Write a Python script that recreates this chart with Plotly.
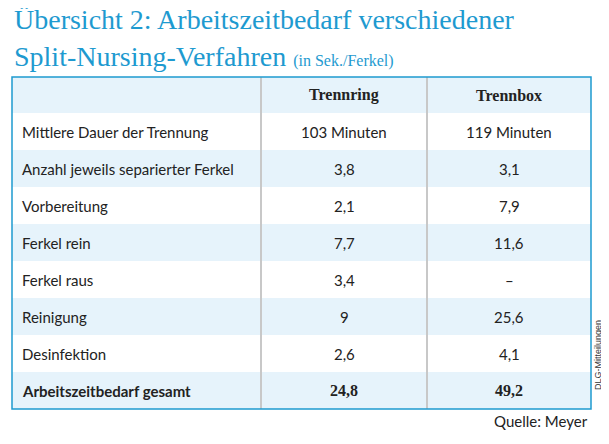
import plotly.graph_objects as go

W, H = 609, 444
OFF = 8  # page body margin

columns = ["Trennring", "Trennbox"]
row_labels = ["Mittlere Dauer der Trennung", "Anzahl jeweils separierter Ferkel",
              "Vorbereitung", "Ferkel rein", "Ferkel raus", "Reinigung",
              "Desinfektion", "Arbeitszeitbedarf gesamt"]
trennring = ["103 Minuten", "3,8", "2,1", "7,7", "3,4", "9", "2,6", "24,8"]
trennbox = ["119 Minuten", "3,1", "7,9", "11,6", "–", "25,6", "4,1", "49,2"]

TEAL = "#1e9ad0"
BLUE = "#e6f3fb"
TEXT = "#222222"

def px(x):
    return (x - OFF) / W

def py(y):
    return 1 - (y - OFF) / H

left, right = 12, 591
top, head_h, row_h = 77, 36, 37
c1, c2 = 261, 427

fig = go.Figure()
shapes, anns = [], []

# header background
shapes.append(dict(type="rect", xref="paper", yref="paper", x0=px(left), x1=px(right),
                   y0=py(top + head_h), y1=py(top), fillcolor=BLUE, line_width=0, layer="below"))
for i in range(len(row_labels)):
    y0 = top + head_h + i * row_h
    if i % 2 == 1:
        shapes.append(dict(type="rect", xref="paper", yref="paper", x0=px(left), x1=px(right),
                           y0=py(y0 + row_h), y1=py(y0), fillcolor=BLUE, line_width=0, layer="below"))
    bold = i == len(row_labels) - 1
    yc = py(y0 + row_h / 2)
    lab = f"<b>{row_labels[i]}</b>" if bold else row_labels[i]
    anns.append(dict(x=px(20), y=yc, text=lab, xanchor="left"))
    for xc, val in [((c1 + c2) / 2, trennring[i]), ((c2 + right) / 2, trennbox[i])]:
        t = f"<b>{val}</b>" if bold else val
        anns.append(dict(x=px(xc), y=yc, text=t, xanchor="center",
                         font=dict(family="Liberation Serif" if bold else "Lato", size=16 if bold else 15, color=TEXT)))
bottom = top + head_h + len(row_labels) * row_h
for xc, name in [((c1 + c2) / 2, columns[0]), ((c2 + right) / 2, columns[1])]:
    anns.append(dict(x=px(xc), y=py(top + head_h / 2), text=f"<b>{name}</b>", xanchor="center",
                     font=dict(family="Liberation Serif", size=16, color=TEXT)))
for xv in [c1, c2]:
    shapes.append(dict(type="line", xref="paper", yref="paper", x0=px(xv), x1=px(xv),
                       y0=py(bottom), y1=py(top), line=dict(color="#c8c8c8", width=2)))
shapes.append(dict(type="rect", xref="paper", yref="paper", x0=px(left), x1=px(right),
                   y0=py(bottom), y1=py(top), line=dict(color=TEAL, width=1.5)))

for a in anns:
    a.setdefault("font", dict(family="Lato", size=15, color=TEXT))
    a.update(xref="paper", yref="paper", showarrow=False, yanchor="middle")

anns += [
    dict(x=px(12), y=py(20), text="Übersicht 2: Arbeitszeitbedarf verschiedener", xanchor="left",
         font=dict(family="Liberation Serif", size=28, color=TEAL)),
    dict(x=px(12), y=py(56), xanchor="left",
         text='Split-Nursing-Verfahren <span style="font-size:16px">(in Sek./Ferkel)</span>',
         font=dict(family="Liberation Serif", size=28, color=TEAL)),
    dict(x=px(590), y=py(421), text="Quelle: Meyer", xanchor="right",
         font=dict(family="Lato", size=15, color=TEXT)),
    dict(x=px(598), y=py(355), text="DLG-Mitteilungen", textangle=-90, xanchor="center",
         font=dict(family="Liberation Sans", size=9, color="#333")),
]
for a in anns[-4:]:
    a.update(xref="paper", yref="paper", showarrow=False, yanchor="middle")

fig.update_layout(width=W, height=H, margin=dict(l=0, r=0, t=0, b=0),
                  paper_bgcolor="white", plot_bgcolor="white",
                  xaxis=dict(visible=False), yaxis=dict(visible=False),
                  shapes=shapes, annotations=anns, showlegend=False)
fig.write_html("out.html")
